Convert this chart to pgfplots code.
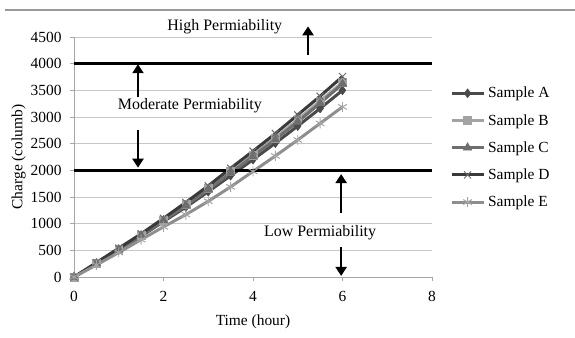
\documentclass[border=0pt]{standalone}
\usepackage{pgfplots}
\pgfplotsset{compat=1.18}
\usetikzlibrary{arrows.meta}
\usepackage{fontspec}
\setmainfont{Liberation Serif}
\definecolor{cA}{HTML}{4A4A4A}
\definecolor{cB}{HTML}{A3A3A3}
\definecolor{cC}{HTML}{6E6E6E}
\definecolor{cD}{HTML}{3A3A3A}
\definecolor{cE}{HTML}{8E8E8E}
\begin{document}
\begin{tikzpicture}
\path[use as bounding box] (-74bp,-61bp) rectangle (501bp,277bp);
\begin{axis}[
  at={(0,0)}, anchor=south west,
  scale only axis, width=358bp, height=240bp,
  xmin=0, xmax=8, ymin=0, ymax=4500,
  xtick={0,2,4,6,8}, ytick={0,500,...,4500},
  axis x line=bottom, axis y line=left,
  axis line style={gray!70, -},
  tick style={gray!70, line width=0.6pt},
  tick align=outside, major tick length=4bp,
  ymajorgrids, grid style={gray!45, line width=0.6pt},
  /pgf/number format/assume math mode=true,
  /pgf/number format/1000 sep={},
  ticklabel style={font=\fontsize{15.5}{17}\selectfont},
  label style={font=\fontsize{15.5}{17}\selectfont},
  xticklabel style={yshift=-7bp},
  yticklabel style={xshift=-5bp},
  xlabel={Time (hour)}, ylabel={Charge (columb)},
  xlabel style={yshift=-6bp},
  ylabel style={yshift=-2bp},
  clip=false,
  legend style={at={(axis description cs:1.05,0.80)}, anchor=north west, draw=none, fill=none,
    font=\fontsize{15.5}{17}\selectfont, row sep=11bp, inner sep=0pt,
    nodes={inner xsep=3bp}},
  legend cell align=left,
  legend image code/.code={\draw[#1, mark repeat=2, mark phase=2] plot coordinates {(0bp,0bp) (16bp,0bp) (32bp,0bp)};},
]
\addplot[cA, line width=3pt, mark=diamond*, mark size=4.5pt, mark options={solid, line width=0.5pt}]
 coordinates {(0,0)(0.5,250)(1,505)(1.5,765)(2,1040)(2.5,1310)(3,1600)(3.5,1900)(4,2200)(4.5,2510)(5,2830)(5.5,3160)(6,3500)};
\addlegendentry{Sample A}
\addplot[cB, line width=3pt, mark=square*, mark size=4pt, mark options={solid, line width=0.5pt}]
 coordinates {(0,0)(0.5,260)(1,520)(1.5,790)(2,1070)(2.5,1360)(3,1660)(3.5,1980)(4,2290)(4.5,2610)(5,2950)(5.5,3300)(6,3650)};
\addlegendentry{Sample B}
\addplot[cC, line width=3pt, mark=triangle*, mark size=5pt, mark options={solid, line width=0.5pt}]
 coordinates {(0,0)(0.5,255)(1,515)(1.5,780)(2,1060)(2.5,1340)(3,1640)(3.5,1950)(4,2260)(4.5,2580)(5,2910)(5.5,3260)(6,3620)};
\addlegendentry{Sample C}
\addplot[cD, line width=3pt, mark=x, mark size=5pt, mark options={solid, line width=1pt, draw=cD!75}]
 coordinates {(0,0)(0.5,270)(1,540)(1.5,810)(2,1100)(2.5,1400)(3,1710)(3.5,2040)(4,2360)(4.5,2690)(5,3040)(5.5,3390)(6,3760)};
\addlegendentry{Sample D}
\addplot[cE, line width=3pt, mark=asterisk, mark size=5pt, mark options={solid, line width=1pt, draw=cE!80}]
 coordinates {(0,0)(0.5,225)(1,460)(1.5,700)(2,940)(2.5,1170)(3,1420)(3.5,1690)(4,1980)(4.5,2270)(5,2570)(5.5,2880)(6,3190)};
\addlegendentry{Sample E}
\addplot[black, line width=3.4pt, forget plot] coordinates {(0,4000)(8,4000)};
\addplot[black, line width=3.4pt, forget plot] coordinates {(0,2000)(8,2000)};
% annotations
\draw[gray!80, line width=1.2pt] (axis description cs:-0.193,1.1125) -- (axis description cs:1.40,1.1125);
\node[font=\fontsize{16}{18}\selectfont] at (axis cs:3.37,4700) {High Permiability};
\node[font=\fontsize{16}{18}\selectfont] at (axis cs:2.59,3215) {Moderate Permiability};
\node[font=\fontsize{16}{18}\selectfont] at (axis cs:5.5,835) {Low Permiability};
\draw[line width=2.5pt, -{Triangle[length=9bp,width=11bp]}] (axis cs:5.23,4160) -- (axis cs:5.23,4700);
\draw[line width=2.5pt, -{Triangle[length=9bp,width=11bp]}] (axis cs:1.43,3375) -- (axis cs:1.43,3990);
\draw[line width=2.5pt, -{Triangle[length=9bp,width=11bp]}] (axis cs:1.43,2756) -- (axis cs:1.43,2050);
\draw[line width=2.5pt, -{Triangle[length=9bp,width=11bp]}] (axis cs:5.97,1200) -- (axis cs:5.97,1930);
\draw[line width=2.5pt, -{Triangle[length=9bp,width=11bp]}] (axis cs:5.97,563) -- (axis cs:5.97,20);
\end{axis}
\end{tikzpicture}
\end{document}
